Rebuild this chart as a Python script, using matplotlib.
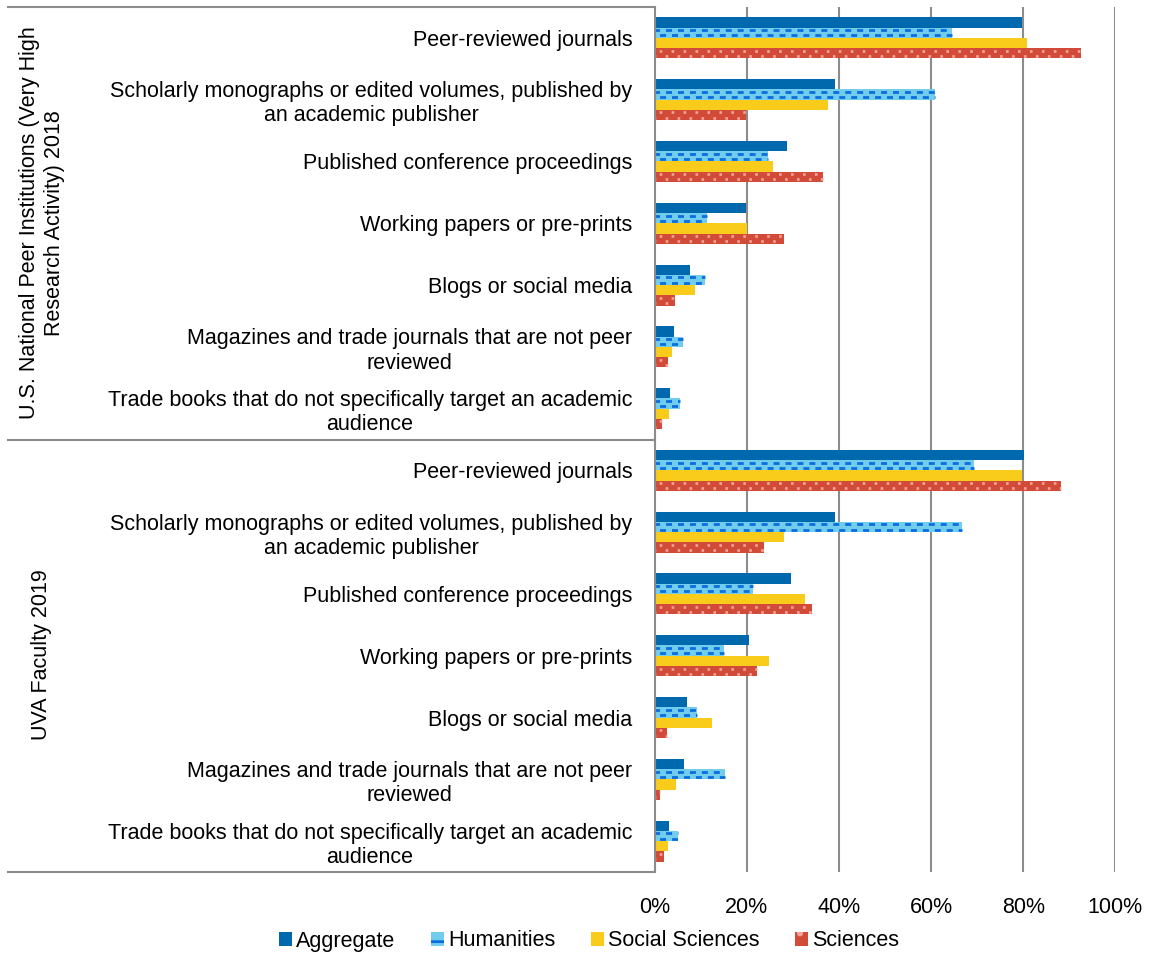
import matplotlib.pyplot as plt
import numpy as np
from matplotlib.patches import Patch

plt.rcParams['font.family'] = ['Liberation Sans', 'DejaVu Sans']
plt.rcParams['lines.scale_dashes'] = False
plt.rcParams['hatch.linewidth'] = 2.0

# categories (same list for both groups)
categories = [
    "Peer-reviewed journals",
    "Scholarly monographs or edited volumes, published by\nan academic publisher",
    "Published conference proceedings",
    "Working papers or pre-prints",
    "Blogs or social media",
    "Magazines and trade journals that are not peer\nreviewed",
    "Trade books that do not specifically target an academic\naudience",
]
groups = ["U.S. National Peer Institutions (Very High\nResearch Activity) 2018", "UVA Faculty 2019"]
series = ["Aggregate", "Humanities", "Social Sciences", "Sciences"]

# values in percent, group 1 (US peers 2018) then group 2 (UVA 2019)
aggregate = [79.8, 39.2, 28.8, 19.8, 7.7, 4.3, 3.3,
             80.1, 39.1, 29.6, 20.4, 7.0, 6.5, 3.2]
humanities = [64.5, 60.8, 24.6, 11.3, 10.9, 6.2, 5.5,
              69.4, 66.8, 21.3, 15.0, 9.2, 15.2, 5.0]
social = [80.9, 37.6, 25.8, 20.0, 8.8, 3.8, 3.1,
          79.8, 28.1, 32.7, 24.8, 12.4, 4.6, 2.9]
sciences = [92.6, 19.8, 36.5, 28.2, 4.4, 2.9, 1.7,
            88.3, 23.8, 34.2, 22.2, 2.7, 1.2, 2.0]

xticks = [0, 20, 40, 60, 80, 100]

c_agg = '#0069AE'
c_hum = '#71CDEB'
c_hum_dash = '#0A6EE0'
c_soc = '#F9CB1B'
c_sci = '#D24B38'
c_sci_dot = '#F4A49A'
grid_c = '#8C8C8C'
fs = 15.5

W, H = 1149, 958
fig = plt.figure(figsize=(W / 100, H / 100), dpi=100)
x0, x1, y0, y1 = 654.5, 1115.3, 7, 872
ax = fig.add_axes([x0 / W, 1 - y1 / H, (x1 - x0) / W, (y1 - y0) / H])

labels = categories * 2
y = np.arange(len(labels))
h = 0.166
offs = np.array([-1.5, -0.5, 0.5, 1.5]) * h
row = 0.042

ax.barh(y + offs[0], aggregate, height=h, color=c_agg, zorder=3)
ax.barh(y + offs[1], humanities, height=h, color=c_hum, zorder=3)
ax.barh(y + offs[2], social, height=h, color=c_soc, zorder=3)
ax.barh(y + offs[3], sciences, height=h, color=c_sci, zorder=3)

# dashes on humanities bars
ax.hlines(y + offs[1] - row, 0, humanities, colors=c_hum_dash, lw=2.0,
          linestyles=[(1.0, (4.3, 4.3))], zorder=4)
ax.hlines(y + offs[1] + row, 0, humanities, colors=c_hum_dash, lw=2.0,
          linestyles=[(5.3, (4.3, 4.3))], zorder=4)
# dots on sciences bars
ax.hlines(y + offs[3] - row, 0, sciences, colors=c_sci_dot, lw=1.9,
          linestyles=[(-3.0, (1.9, 6.7))], zorder=4)
ax.hlines(y + offs[3] + row, 0, sciences, colors=c_sci_dot, lw=1.9,
          linestyles=[(-7.3, (1.9, 6.7))], zorder=4)

ax.set_xlim(0, 100)
ax.set_ylim(len(labels) - 0.5, -0.5)
ax.set_xticks(xticks)
ax.set_xticklabels([f"{t}%" for t in xticks], fontsize=fs)
ax.set_yticks(y)
ax.set_yticklabels(labels, fontsize=fs, multialignment='center')
ax.tick_params(axis='both', length=0)
ax.tick_params(axis='y', pad=16)
ax.tick_params(axis='x', pad=18)

for s in ['top', 'right', 'bottom']:
    ax.spines[s].set_visible(False)
ax.spines['left'].set_color(grid_c)
ax.spines['left'].set_linewidth(1.5)
ax.spines['left'].set_zorder(5)
for t in xticks[1:]:
    ax.axvline(t, color=grid_c, lw=1.5, zorder=1)

# category group separators reaching to the left edge
xleft = -(x0 - 8) / (x1 - x0)
trans = ax.get_yaxis_transform()
for yb in [-0.5, 6.5, 13.5]:
    ax.plot([xleft, 0], [yb, yb], transform=trans, color=grid_c, lw=1.5, clip_on=False)

# group labels
fig.text(42 / W, 1 - 223 / H, groups[0], rotation=90, ha='center', va='center',
         multialignment='center', fontsize=fs)
fig.text(42 / W, 1 - 655 / H, groups[1], rotation=90, ha='center', va='center',
         fontsize=fs)

handles = [
    Patch(facecolor=c_agg),
    Patch(facecolor=c_hum, edgecolor=c_hum_dash, hatch='-', lw=0),
    Patch(facecolor=c_soc),
    Patch(facecolor=c_sci, edgecolor=c_sci_dot, hatch='.', lw=0),
]
fig.legend(handles, series, loc='center', bbox_to_anchor=(589 / W, 1 - 941 / H),
           ncol=4, frameon=False, fontsize=fs, handlelength=0.6, handleheight=0.6,
           handletextpad=0.2, columnspacing=1.65, borderaxespad=0)

fig.savefig('out.png', dpi=100)
